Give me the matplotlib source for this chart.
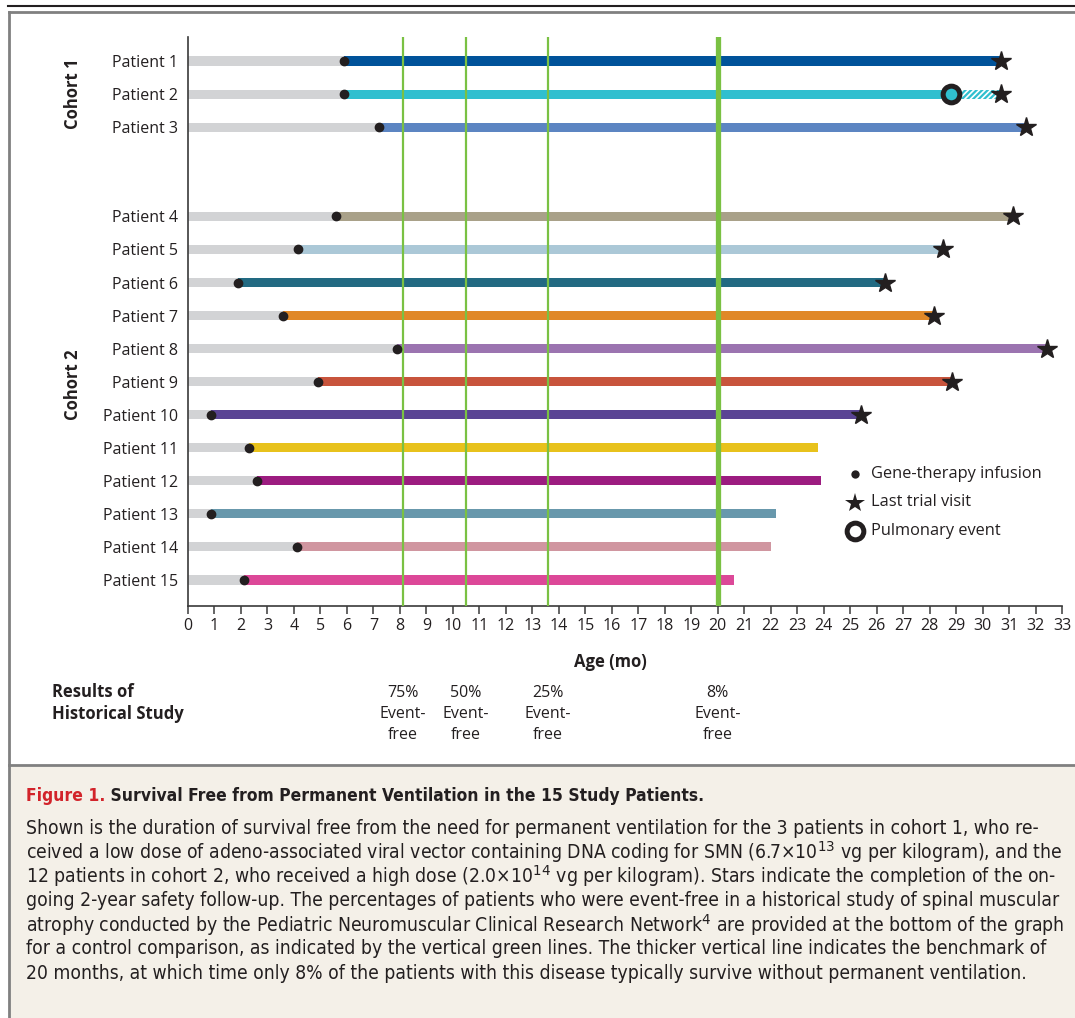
import numpy as np
import matplotlib
matplotlib.use('Agg')
import matplotlib.pyplot as plt
from matplotlib.lines import Line2D
from matplotlib.patches import Rectangle
from matplotlib import transforms, font_manager

# data (ages in months)
patients = ['Patient %d' % i for i in range(1, 16)]
cohort = np.array([1, 1, 1] + [2] * 12)
infusion_age = [5.9, 5.9, 7.2, 5.6, 4.15, 1.9, 3.6, 7.9, 4.9, 0.85,
                2.3, 2.6, 0.85, 4.1, 2.1]
last_age = [30.7, 30.7, 31.65, 31.15, 28.5, 26.3, 28.15, 32.45, 28.85, 25.4,
            23.8, 23.9, 22.2, 22.0, 20.6]
trial_done = [True] * 10 + [False] * 5
pulmonary_event = {'Patient 2': 28.8}
bar_colors = ['#00539a', '#30bfcf', '#5c85c2', '#a9a189', '#abc8d7',
              '#226a82', '#e08828', '#9b74b0', '#c8543c', '#5a4494',
              '#e8c21c', '#9c1c80', '#6898ac', '#d096a0', '#dc4898']
hist_age = [8.1, 10.5, 13.6, 20.0]
hist_pct = ['75%', '50%', '25%', '8%']

caption_title = 'Survival Free from Permanent Ventilation in the 15 Study Patients.'
caption_lines = [
    'Shown is the duration of survival free from the need for permanent ventilation for the 3 patients in cohort 1, who re-',
    'ceived a low dose of adeno-associated viral vector containing DNA coding for SMN (6.7\u00d710$^{13}$ vg per kilogram), and the',
    '12 patients in cohort 2, who received a high dose (2.0\u00d710$^{14}$ vg per kilogram). Stars indicate the completion of the on-',
    'going 2-year safety follow-up. The percentages of patients who were event-free in a historical study of spinal muscular',
    'atrophy conducted by the Pediatric Neuromuscular Clinical Research Network$^{4}$ are provided at the bottom of the graph',
    'for a control comparison, as indicated by the vertical green lines. The thicker vertical line indicates the benchmark of',
    '20 months, at which time only 8% of the patients with this disease typically survive without permanent ventilation.',
]

W, H = 1075, 1018
INK = '#231f20'
GRAY = '#d2d3d5'
GREEN = '#7ac143'

names = {f.name for f in font_manager.fontManager.ttflist}
cap_font = 'Liberation Sans Narrow' if 'Liberation Sans Narrow' in names else 'DejaVu Sans'
plt.rcParams['font.family'] = ['Open Sans', 'DejaVu Sans']
plt.rcParams['mathtext.fontset'] = 'custom'
plt.rcParams['mathtext.rm'] = cap_font
plt.rcParams['hatch.linewidth'] = 1.6


def fx(px):
    return px / W


def fy(py):
    return 1 - py / H


fig = plt.figure(figsize=(W / 100, H / 100), dpi=100, facecolor='white')

# frame and caption panel
fig.add_artist(Rectangle((fx(10), 0), 1, fy(765), transform=fig.transFigure,
                         facecolor='#f4f0e8', edgecolor='none', zorder=0))
fig.add_artist(Line2D([fx(8), 1], [fy(6), fy(6)], color=INK, lw=1.5))
fig.add_artist(Line2D([fx(9), 1], [fy(12), fy(12)], color='#808080', lw=2))
fig.add_artist(Line2D([fx(9), fx(9)], [0, fy(12)], color='#808080', lw=2))
fig.add_artist(Line2D([fx(9), 1], [fy(765), fy(765)], color='#808080', lw=2))

ax = fig.add_axes([fx(188), fy(606), fx(1062) - fx(188), fy(37) - fy(606)])
ax.set_facecolor('none')

rows = np.arange(len(patients)) + np.where(cohort == 2, 1.7, 0.0)
bar_h = 0.28

for i, name in enumerate(patients):
    y = rows[i]
    start, end = infusion_age[i], last_age[i]
    ax.barh(y, start, left=0, height=bar_h, color=GRAY, zorder=2)
    stop = pulmonary_event.get(name, end)
    ax.barh(y, stop - start, left=start, height=bar_h, color=bar_colors[i],
            zorder=2)
    if name in pulmonary_event:
        ax.barh(y, end - stop, left=stop, height=bar_h, color='white',
                edgecolor=bar_colors[i], hatch='//////', linewidth=0, zorder=2)
        ax.plot(stop, y, 'o', ms=12, mfc=bar_colors[i], mec=INK, mew=3.6,
                zorder=5)
    ax.plot(start, y, 'o', ms=6, color=INK, zorder=5)
    if trial_done[i]:
        ax.plot(end, y, '*', ms=15, color=INK, zorder=5)

for k, age in enumerate(hist_age):
    ax.axvline(age, color=GREEN, lw=3.8 if age == 20 else 1.6, zorder=3)

ax.set_xlim(0, 33)
ax.set_ylim(rows[-1] + 0.79, -0.73)
ax.set_xticks(range(0, 34))
ax.set_yticks(rows)
ax.set_yticklabels(patients)
ax.tick_params(axis='x', direction='out', length=6, width=1.1, color='#3a3a3a',
               labelsize=11.5, pad=3, labelcolor=INK)
ax.tick_params(axis='y', length=0, pad=7, labelsize=11.5, labelcolor=INK)
for s in ['top', 'right']:
    ax.spines[s].set_visible(False)
for s in ['left', 'bottom']:
    ax.spines[s].set_color('#3a3a3a')
    ax.spines[s].set_linewidth(1.2)

fig.text(fx(610), fy(662), 'Age (mo)', ha='center', va='center',
         fontsize=12, fontweight='bold', color=INK)
fig.text(fx(73), fy(94), 'Cohort 1', rotation=90, ha='center', va='center',
         fontsize=12, fontweight='bold', color=INK)
fig.text(fx(73), fy(385), 'Cohort 2', rotation=90, ha='center', va='center',
         fontsize=12, fontweight='bold', color=INK)

# legend
leg = [('o', 6, INK, INK, 0, 'Gene-therapy infusion'),
       ('*', 15, INK, INK, 0, 'Last trial visit'),
       ('o', 12, 'white', INK, 3.6, 'Pulmonary event')]
for j, (m, ms, fc, ec, mew, lab) in enumerate(leg):
    yy = fy(474 + 28.5 * j)
    fig.add_artist(Line2D([fx(855)], [yy], marker=m, ms=ms, mfc=fc, mec=ec,
                          mew=mew, ls='none', transform=fig.transFigure))
    fig.text(fx(871), yy, lab, ha='left', va='center', fontsize=11.8,
             color=INK)

# historical study row
fig.text(fx(52), fy(703), 'Results of\nHistorical Study', ha='left',
         va='center', fontsize=12, fontweight='bold', color=INK,
         linespacing=1.35)
trans = transforms.blended_transform_factory(ax.transData, fig.transFigure)
for age, pct in zip(hist_age, hist_pct):
    ax.text(age, fy(714), pct + '\nEvent-\nfree', transform=trans,
            ha='center', va='center', fontsize=11.5, color=INK,
            linespacing=1.4)

# caption, sized to the measured line widths
cap_kw = dict(family=cap_font, fontstretch='condensed')
r = fig.canvas.get_renderer()


def fit_size(s, target, **kw):
    probe = fig.text(0, 0, s, fontsize=12, **kw)
    w = probe.get_window_extent(r).width
    probe.remove()
    return 12 * target / w


title_size = fit_size('Figure 1. ' + caption_title, 677, fontweight='bold',
                      **cap_kw)
t1 = fig.text(fx(26), fy(796), 'Figure 1.', ha='left', va='center',
              fontsize=title_size, fontweight='bold', color='#d2232a',
              **cap_kw)
ax.annotate(' ' + caption_title, xy=(1, 0.5), xycoords=t1, ha='left',
            va='center', fontsize=title_size, fontweight='bold', color=INK,
            **cap_kw)

cap_size = fit_size(caption_lines[3], 1036, **cap_kw)
for n, line in enumerate(caption_lines):
    fig.text(fx(26), fy(828 + 24.2 * n), line, ha='left', va='center',
             fontsize=cap_size, color=INK, **cap_kw)

fig.savefig('out.png', dpi=100, facecolor='white')
